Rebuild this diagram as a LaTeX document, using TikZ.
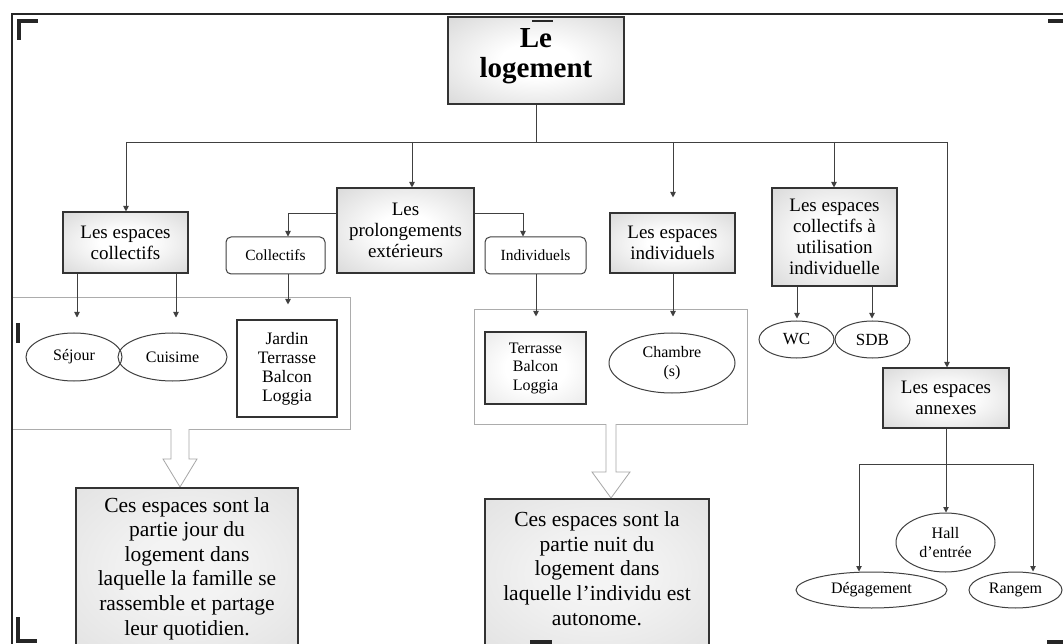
\documentclass[tikz,border=0pt]{standalone}
\usepackage{fontspec}
\setmainfont{Liberation Serif}
\usetikzlibrary{arrows.meta,shapes.geometric}

% soft radial fills for the labelled boxes
\pgfdeclareradialshading{headshade}{\pgfpoint{0bp}{0bp}}{%
  color(0bp)=(white); color(10bp)=(white); color(36bp)=(gray!30); color(50bp)=(gray!48)}
\pgfdeclareradialshading{descshade}{\pgfpoint{0bp}{0bp}}{%
  color(0bp)=(gray!8); color(12bp)=(gray!10); color(40bp)=(gray!24); color(50bp)=(gray!34)}
\pgfdeclareradialshading{lightshade}{\pgfpoint{0bp}{0bp}}{%
  color(0bp)=(white); color(15bp)=(white); color(40bp)=(gray!20); color(50bp)=(gray!32)}

\begin{document}
\begin{tikzpicture}[x=1pt,y=-1pt,
  line/.style={draw=black!75, line width=0.9pt},
  arr/.style={line, -{Triangle[width=5.5pt,length=5.5pt]}},
  shadedbox/.style={draw=black!80, line width=1.1pt, rectangle, inner sep=0pt,
    align=center, shading=headshade, shade,
    font=\fontsize{19}{21}\selectfont},
  roundbox/.style={draw=black!75, line width=1pt, rectangle, rounded corners=5pt,
    fill=white, inner sep=0pt, align=center, font=\fontsize{15.5}{18}\selectfont},
  plainbox/.style={draw=black!80, line width=1.1pt, rectangle, fill=white,
    inner sep=0pt, align=center, font=\fontsize{17.5}{19}\selectfont},
  oval/.style={draw=black!75, line width=1pt, ellipse, inner sep=0pt,
    align=center, font=\fontsize{16}{19}\selectfont},
  descbox/.style={draw=black!80, line width=1.1pt, rectangle, inner sep=0pt,
    shading=descshade, shade},
  desctext/.style={align=center, inner sep=0pt, font=\fontsize{21.5}{24.6}\selectfont},
  groupline/.style={draw=gray!65, line width=0.8pt},
  hollow/.style={draw=gray!70, line width=0.8pt, fill=white},
  cropmark/.style={draw=black!85, line width=4pt},
]
\useasboundingbox (0,0) rectangle (1063,644);
\fill[white] (0,0) rectangle (1063,644);
\clip (0,0) rectangle (1063,644);

% page frame
\draw[black!85, line width=2.6pt] (12,644) -- (12,14) -- (1063,14);

% grouping frames with their hollow arrows
\draw[groupline] (189,429) -- (350,429) -- (350,297) -- (13,297);
\draw[groupline] (13,429) -- (171,429);
\draw[hollow] (171,429) -- (171,459) -- (163,459) -- (180,487) -- (197,459) -- (189,459) -- (189,429);
\draw[groupline] (616,424) -- (747,424) -- (747,309) -- (474,309) -- (474,424) -- (606,424);
\draw[hollow] (606,424) -- (606,472) -- (592,472) -- (611,498) -- (630,472) -- (616,472) -- (616,424);

% root
\node[shadedbox, minimum width=176pt, minimum height=87pt] (main) at (536,60.5) {};
\node[align=center, inner sep=0pt, font=\fontsize{29}{30}\selectfont\bfseries] (maintxt) at (536,56) {Le\\logement};

% first level
\node[shadedbox, minimum width=125pt, minimum height=61pt] (colA) at (125.5,242.5) {Les espaces\\collectifs};
\node[shadedbox, minimum width=137pt, minimum height=85pt] (prol) at (405.5,230.5) {Les\\prolongements\\extérieurs};
\node[shadedbox, minimum width=125pt, minimum height=60pt] (indA) at (672.5,243) {Les espaces\\individuels};
\node[shadedbox, minimum width=125pt, minimum height=98pt] (cui) at (834.5,237) {Les espaces\\collectifs à\\utilisation\\individuelle};
\node[shadedbox, minimum width=126pt, minimum height=60pt] (ann) at (946,398) {Les espaces\\annexes};

% second level
\node[roundbox, minimum width=99pt, minimum height=37pt] (colB) at (275.5,255.5) {Collectifs};
\node[roundbox, minimum width=101pt, minimum height=37pt] (indB) at (535.5,255.5) {Individuels};

% rooms
\node[oval, minimum width=96pt, minimum height=48pt] (sej) at (74,357) {Séjour};
\node[oval, minimum width=109pt, minimum height=48pt] (cuis) at (172.5,357) {Cuisime};
\node[plainbox, minimum width=100pt, minimum height=97pt] (jardin) at (287,368.5) {Jardin\\Terrasse\\Balcon\\Loggia};
\node[plainbox, minimum width=101pt, minimum height=72pt, shading=lightshade, shade,
      font=\fontsize{16}{18.5}\selectfont] (ter) at (535.5,368) {Terrasse\\Balcon\\Loggia};
\node[oval, minimum width=126pt, minimum height=60pt] (chambre) at (672,363) {Chambre\\(s)};
\node[oval, minimum width=75pt, minimum height=37pt, font=\fontsize{17}{19}\selectfont] (wc) at (796.5,339.5) {WC};
\node[oval, minimum width=75pt, minimum height=37pt, font=\fontsize{17}{19}\selectfont] (sdb) at (872.5,339.5) {SDB};
\node[oval, minimum width=99pt, minimum height=59pt] (hall) at (945.5,542.5) {Hall\\d’entrée};
\node[oval, minimum width=151pt, minimum height=36pt] (deg) at (871.5,590) {Dégagement};
\node[oval, minimum width=93pt, minimum height=36pt] (ran) at (1015.5,590) {Rangem};

% descriptions
\node[descbox, minimum width=222pt, minimum height=161pt] (jour) at (187,568.5) {};
\node[desctext] (jourtxt) at (187,568.5) {Ces espaces sont la\\partie jour du\\logement dans\\laquelle la famille se\\rassemble et partage\\leur quotidien.};
\node[descbox, minimum width=224pt, minimum height=149pt] (nuit) at (597,573.5) {};
\node[desctext] (nuittxt) at (597,568.5) {Ces espaces sont la\\partie nuit du\\logement dans\\laquelle l’individu est\\autonome.};

% helper positions for the drops
\coordinate (busL) at (126,142);
\coordinate (busR) at (947,142);
\coordinate (xP) at (412,0);
\coordinate (xS) at (673,0);
\coordinate (xC) at (834,0);
\coordinate (xA1) at (77,0);
\coordinate (xA2) at (176,0);
\coordinate (xB) at (288,0);
\coordinate (xI) at (523,0);
\coordinate (xI2) at (536,0);
\coordinate (xW) at (797,0);
\coordinate (xD) at (872,0);
\coordinate (xG) at (859,0);
\coordinate (xR) at (1033,0);
\coordinate (yP) at (0,213);
\coordinate (yB) at (0,464);

% connectors
\draw[line] (main.south) -- (main.south |- busL);
\draw[line] (busL) -- (busR);
\draw[arr] (busL) -- (busL |- colA.north);
\draw[arr] (xP |- busL) -- (xP |- prol.north);
\draw[arr, shorten >=15pt] (xS |- busL) -- (xS |- indA.north);
\draw[arr] (xC |- busL) -- (xC |- cui.north);
\draw[arr] (busR) -- (busR |- ann.north);

\draw[arr, shorten >=15pt] (colA.south -| xA1) -- (sej.north -| xA1);
\draw[arr, shorten >=15pt] (colA.south -| xA2) -- (cuis.north -| xA2);
\draw[arr] (prol.west |- yP) -| (colB.north -| xB);
\draw[arr] (prol.east |- yP) -| (indB.north -| xI);
\draw[arr, shorten >=15pt] (colB.south -| xB) -- (jardin.north -| xB);
\draw[arr, shorten >=15pt] (indB.south -| xI2) -- (ter.north -| xI2);
\draw[arr, shorten >=16pt] (indA.south -| xS) -- (chambre.north -| xS);
\draw[arr, shorten >=2pt] (cui.south -| xW) -- (wc.north -| xW);
\draw[arr, shorten >=2pt] (cui.south -| xD) -- (sdb.north -| xD);

\draw[arr] (ann.south) -- (ann.south |- hall.north);
\draw[arr] (ann.south |- yB) -| (deg.north -| xG);
\draw[arr] (ann.south |- yB) -| (ran.north -| xR);

% registration marks
\draw[cropmark] (19,40) -- (19,21.5) -- (38,21.5);
\draw[cropmark] (17.5,323) -- (17.5,343);
\draw[cropmark] (17.5,617) -- (17.5,641) -- (37,641);
\draw[cropmark, line width=2.5pt] (532,21) -- (553,21);
\draw[cropmark] (1048,21) -- (1063,21);
\draw[cropmark] (530,641.5) -- (552,641.5);
\draw[cropmark] (1047,642) -- (1063,642);
\end{tikzpicture}
\end{document}
